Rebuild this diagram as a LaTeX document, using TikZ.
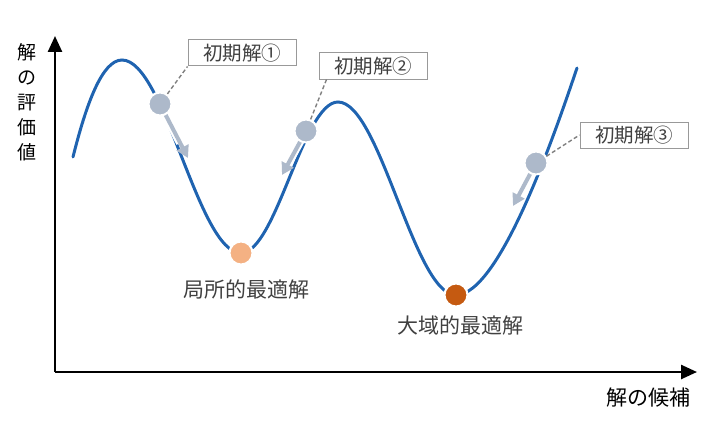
\documentclass[tikz,border=0pt]{standalone}
\usepackage{fontspec}
\newfontfamily\jp{Noto Sans CJK JP}
\usetikzlibrary{arrows.meta}
\definecolor{curveblue}{HTML}{1F63B0}
\definecolor{startgray}{HTML}{ADB9CA}
\definecolor{localorange}{HTML}{F4B183}
\definecolor{globalorange}{HTML}{C55A11}
\definecolor{textgray}{HTML}{404040}
\tikzset{
  ball/.style={circle, minimum size=23pt, inner sep=0pt, draw=white, line width=2pt},
  startbox/.style={draw=gray!80, line width=1pt, fill=white, text=textgray,
    minimum width=108pt, minimum height=26pt, inner sep=2pt, font=\jp\fontsize{19.5}{21}\selectfont},
  leader/.style={gray, dash pattern=on 4pt off 2.5pt, line width=1.4pt},
  slide/.style={startgray, line width=4pt, -{Triangle[width=13pt,length=12pt]}},
  slidegap/.style={white, line width=8pt},
  minlabel/.style={text=textgray, font=\jp\fontsize{21}{24}\selectfont},
}
\begin{document}
\begin{tikzpicture}[x=1pt, y=-1pt]
  \useasboundingbox (0,0) rectangle (720,444);

  % axes
  \draw[line width=2.5pt, -{Triangle[width=14pt,length=16pt]}] (55,372) -- (55,36);
  \draw[line width=2.5pt, -{Triangle[width=14pt,length=16pt]}] (55,372) -- (697,372);
  \node[font=\jp\fontsize{19}{25}\selectfont, align=center] (ylab) at (27,102) {解\\の\\評\\価\\値};
  \node[font=\jp\fontsize{21}{24}\selectfont] (xlab) at (648,398) {解の候補};

  % evaluation curve
  \draw[curveblue, line width=3pt, line cap=round]
    (73,157) .. controls (86,105) and (102,60) .. (122,60)
    .. controls (165,60) and (198,253) .. (241,253)
    .. controls (276,253) and (303,102) .. (338,102)
    .. controls (380,102) and (414,295) .. (456,295)
    .. controls (500,295) and (556,130) .. (577,68);

  % descent arrows
  \coordinate (end1) at (188,158);
  \coordinate (end2) at (282,175);
  \coordinate (end3) at (513,206);
  \draw[slidegap] (160,104) -- (180,143);
  \draw[slidegap] (306,131) -- (289,162);
  \draw[slidegap] (536,163) -- (520,193);
  \draw[slide] (160,104) -- (end1);
  \draw[slide] (306,131) -- (end2);
  \draw[slide] (536,163) -- (end3);

  % balls
  \node[ball, fill=startgray] (s1) at (160,104) {};
  \node[ball, fill=startgray] (s2) at (306,131) {};
  \node[ball, fill=startgray] (s3) at (536,163) {};
  \node[ball, fill=localorange] (lmin) at (241,253) {};
  \node[ball, fill=globalorange] (gmin) at (456,295) {};

  % labels of starting points
  \node[startbox] (b1) at (242,53) {初期解①};
  \node[startbox] (b2) at (373,66) {初期解②};
  \node[startbox] (b3) at (634,135) {初期解③};
  \draw[leader] (s1) -- (b1.south west);
  \draw[leader] (s2) -- ([xshift=8pt]b2.south west);
  \draw[leader] (s3) -- (b3.west);

  % labels of minima
  \node[minlabel] (llab) at (246,289) {局所的最適解};
  \node[minlabel] (glab) at (460,325) {大域的最適解};
\end{tikzpicture}
\end{document}
